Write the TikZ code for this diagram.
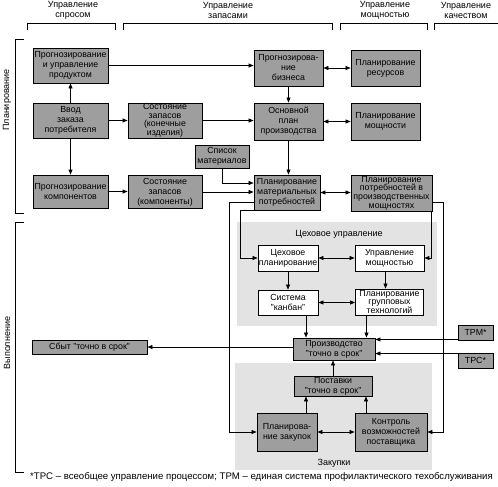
\documentclass[tikz,border=0pt]{standalone}
\usepackage{fontspec}
\setmainfont{Liberation Sans}
\usepackage{xcolor}
\usepackage{tikz}
\usetikzlibrary{arrows.meta, positioning}

\tikzset{
  blk/.style={draw, line width=0.9pt, fill=black!38, align=center, inner sep=0pt,
    font=\fontsize{8.8}{10}\selectfont},
  wblk/.style={blk, fill=white},
  tight/.style={font=\fontsize{8.8}{8.6}\selectfont},
  zone/.style={fill=black!11},
  hdr/.style={align=center, inner sep=0pt, font=\fontsize{9}{10}\selectfont},
  arr/.style={-{Triangle[length=5pt,width=4pt]}, line width=0.6pt},
  darr/.style={{Triangle[length=5pt,width=4pt]}-{Triangle[length=5pt,width=4pt]}, line width=0.6pt},
}

\begin{document}
\begin{tikzpicture}[x=1pt, y=-1pt]
  \useasboundingbox (0,0) rectangle (498,487);

  % shaded zones
  \fill[zone] (237,222) rectangle (437,326);
  \fill[zone] (235,363) rectangle (432,470);
  \node[hdr] (shoplbl) at (339,234) {Цеховое управление};
  \node[hdr] (buylbl) at (334,463) {Закупки};

  % column heads
  \node[hdr] (hdem) at (73,10) {Управление\\спросом};
  \node[hdr] (hstk) at (228,10) {Управление\\запасами};
  \node[hdr] (hcap) at (385,10) {Управление\\мощностью};
  \node[hdr] (hqual) at (466,10) {Управление\\качеством};
  \foreach \a/\b in {27/115, 123/332, 340/427}{
    \draw[line width=0.6pt] (\a,30) -- (\a,23) -- (\b,23) -- (\b,30);
  }
  \draw[line width=0.6pt] (434,30) -- (434,23) -- (498,23);

  % row heads
  \draw[line width=0.6pt] (24,39) -- (15,39) -- (15,213) -- (24,213);
  \draw[line width=0.6pt] (24,222) -- (15,222) -- (15,472) -- (24,472);
  \node[hdr, rotate=90] (hplan) at (7,100) {Планирование};
  \node[hdr, rotate=90] (hexec) at (7,343) {Выполнение};

  % planning blocks
  \node[blk, minimum width=75pt, minimum height=35pt] (pf) at (70.5,65.5) {Прогнозирование\\и управление\\продуктом};
  \node[blk, minimum width=75pt, minimum height=35pt] (order) at (70.5,120.5) {Ввод\\заказа\\потребителя};
  \node[blk, minimum width=75pt, minimum height=33pt] (compf) at (70.5,191.5) {Прогнозирование\\компонентов};
  \node[blk, tight, minimum width=74pt, minimum height=35pt] (fin) at (165,120.5) {Состояние\\запасов\\(конечные\\изделия)};
  \node[blk, minimum width=74pt, minimum height=33pt] (compst) at (165,192) {Состояние\\запасов\\(компоненты)};
  \node[blk, minimum width=54pt, minimum height=23pt] (bom) at (222,156.5) {Список\\материалов};
  \node[blk, minimum width=69pt, minimum height=36pt] (bus) at (288.5,68) {Прогнозирова-\\ние\\бизнеса};
  \node[blk, minimum width=69pt, minimum height=37pt] (mps) at (288.5,121.5) {Основной\\план\\производства};
  \node[blk, minimum width=66pt, minimum height=35pt] (mrp) at (287,192.5) {Планирование\\материальных\\потребностей};
  \node[blk, minimum width=69pt, minimum height=36pt] (res) at (385.5,68) {Планирование\\ресурсов};
  \node[blk, minimum width=69pt, minimum height=37pt] (cap) at (385.5,121.5) {Планирование\\мощности};
  \node[blk, tight, minimum width=81pt, minimum height=36pt] (crp) at (391.5,193) {Планирование\\потребностей в\\производственных\\мощностях};

  % shop floor blocks
  \node[wblk, minimum width=60pt, minimum height=26pt] (sfp) at (288,258) {Цеховое\\планирование};
  \node[wblk, minimum width=69pt, minimum height=26pt] (cm) at (389.5,258) {Управление\\мощностью};
  \node[wblk, minimum width=60pt, minimum height=25pt] (kb) at (288,302.5) {Система\\"канбан"};
  \node[wblk, tight, minimum width=68pt, minimum height=26pt] (gt) at (389.5,302) {Планирование\\групповых\\технологий};

  % execution blocks
  \node[blk, minimum width=82pt, minimum height=22pt] (prod) at (334,349) {Производство\\"точно в срок"};
  \node[blk, minimum width=115pt, minimum height=14pt] (sales) at (89.5,347) {Сбыт "точно в срок"};
  \node[blk, minimum width=35pt, minimum height=15pt] (tpm) at (475.5,332.5) {TPM*};
  \node[blk, minimum width=35pt, minimum height=15pt] (tpc) at (475.5,360.5) {TPC*};
  \node[blk, minimum width=78pt, minimum height=20pt] (sup) at (333,386) {Поставки\\"точно в срок"};
  \node[blk, minimum width=60pt, minimum height=38pt] (pp) at (287,432) {Планирова-\\ние закупок};
  \node[blk, minimum width=72pt, minimum height=38pt] (sc) at (391,432) {Контроль\\возможностей\\поставщика};

  % planning links
  \draw[arr] (pf.east) -- (pf.east -| bus.west);
  \draw[darr] (bus.east) -- (bus.east -| res.west);
  \draw[arr] (order.north) -- (pf.south);
  \draw[arr] (order.south) -- (compf.north);
  \draw[arr] (order.east) -- (fin.west);
  \draw[arr] (fin.east) -- (fin.east -| mps.west);
  \draw[arr] (bus.south) -- (mps.north);
  \draw[darr] (mps.east) -- (cap.west);
  \draw[arr] (compf.east) -- (compf.east -| compst.west);
  \draw[arr] (compst.east) -- (compst.east -| mrp.west);
  \draw[arr] (bom.south) |- ([yshift=9.5pt]mrp.west);
  \draw[arr] (mps.south) -- (mps.south |- mrp.north);
  \draw[darr] (mrp.east) -- (mrp.east -| crp.west);

  % loops down
  \draw[arr] ([yshift=-9.5pt]mrp.west) -- ++(-24,0) |- (pp.west);
  \draw[arr] (mrp.south west) -- ++(-13,0) |- (sfp.west);
  \draw[arr] ([yshift=-9pt]crp.east) -- ++(11,0) |- (sc.east);
  \draw[arr] ([xshift=-1pt]crp.south east) |- (cm.east);

  % shop floor links
  \draw[darr] (sfp.east) -- (cm.west);
  \draw[arr] (sfp.south) -- (kb.north);
  \draw[arr] ([xshift=-4pt]cm.south) -- ([xshift=-4pt]gt.north);
  \draw[darr] (kb.east) -- (kb.east -| gt.west);
  \draw[arr] ([xshift=18pt]kb.south) -- ([xshift=18pt]kb.south |- prod.north);
  \draw[arr] ([xshift=-23pt]gt.south) -- ([xshift=-23pt]gt.south |- prod.north);

  % execution links
  \draw[arr] (prod.west |- sales.east) -- (sales.east);
  \draw[arr] ([yshift=1pt]tpm.south west) -- ([yshift=1pt]tpm.south west -| prod.east);
  \draw[arr] ([yshift=-1pt]tpc.north west) -- ([yshift=-1pt]tpc.north west -| prod.east);
  \draw[arr] (sup.north) -- (sup.north |- prod.south);
  \draw[arr] ([xshift=19pt]pp.north) -- ([xshift=19pt]pp.north |- sup.south);
  \draw[arr] ([xshift=-25pt]sc.north) -- ([xshift=-25pt]sc.north |- sup.south);
  \draw[darr] (pp.east) -- (sc.west);

  % footnote
  \node[hdr, anchor=west, font=\fontsize{9.6}{10}\selectfont] (note) at (30,477)
    {*TPC -- всеобщее управление процессом; TPM -- единая система профилактического техобслуживания};
\end{tikzpicture}
\end{document}
